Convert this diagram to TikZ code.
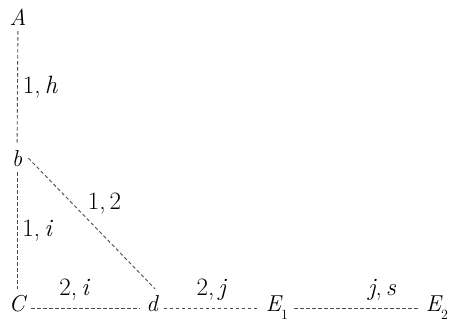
\documentclass[tikz,border=0pt]{standalone}
\usepackage{fontspec}
\usetikzlibrary{positioning}

\begin{document}
\begin{tikzpicture}[
  x=1pt, y=-1pt,
  vtx/.style={anchor=base, font=\fontsize{23}{28}\selectfont\itshape, inner sep=6pt},
  lbl/.style={font=\fontsize{25}{28}\selectfont, inner sep=2pt},
  link/.style={draw=black!70, line width=0.9pt, dash pattern=on 3.5pt off 2.5pt}
]
\useasboundingbox (0,0) rectangle (449,322);
\node[vtx] (A) at (18,25) {A};
\node[vtx] (b) at (17,166) {b};
\node[vtx] (C) at (17,311) {C};
\node[vtx] (d) at (152,311) {d};
\node[vtx] (E1) at (277,311) {E\raisebox{-0.35em}{\fontsize{14}{14}\selectfont\upshape 1}};
\node[vtx] (E2) at (437,311) {E\raisebox{-0.35em}{\fontsize{14}{14}\selectfont\upshape 2}};
\draw[link] (A) -- node[lbl, right=3pt] {1,\,\textit{h}} (b);
\draw[link] (b) -- node[lbl, right=3pt] {1,\,\textit{i}} (C);
\draw[link] (b.east) -- node[lbl, above right, pos=0.45] {1,\,2} ([xshift=3pt]d.north);
\draw[link] (C.mid east) -- node[lbl, above=6pt, pos=0.4] {2,\,\textit{i}} (d.mid west);
\draw[link] (d.mid east) -- node[lbl, above=6pt, pos=0.5] {2,\,\textit{j}} (E1.mid west);
\draw[link] (E1.mid east) -- node[lbl, above=6pt, pos=0.7] {\textit{j},\,\textit{s}} (E2.mid west);
\end{tikzpicture}
\end{document}
